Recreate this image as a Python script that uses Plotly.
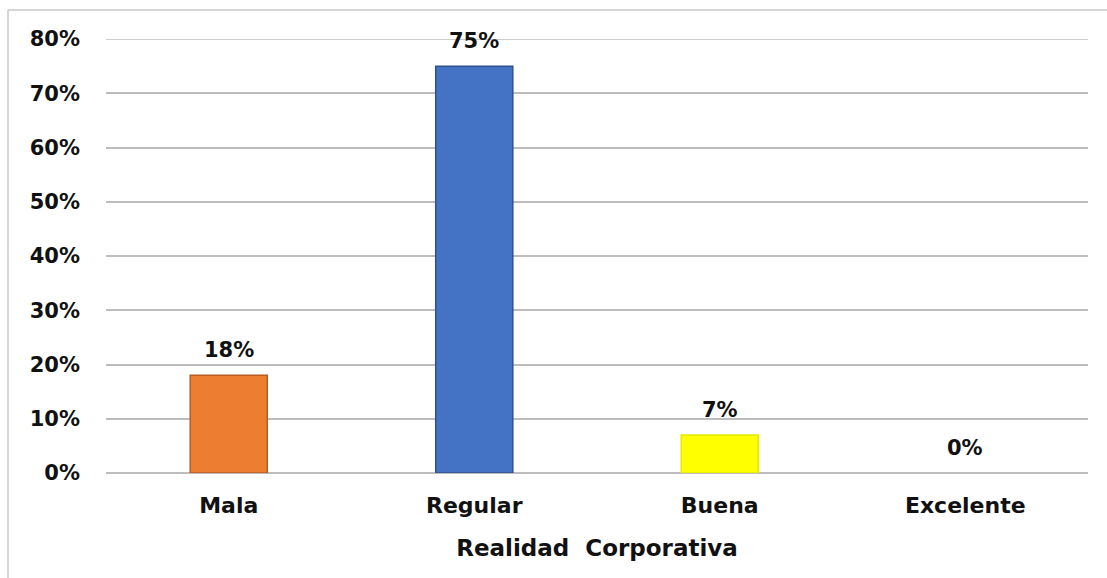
import plotly.graph_objects as go

# Data
categories = ["Mala", "Regular", "Buena", "Excelente"]
values = [0.18, 0.75, 0.07, 0.00]
labels = ["18%", "75%", "7%", "0%"]
fill_colors = ["#ED7D31", "#4472C4", "#FFFF00", "#A5A5A5"]
edge_colors = ["#B85C22", "#2F528F", "#E8E800", "#7F7F7F"]
y_ticks = [0, 0.1, 0.2, 0.3, 0.4, 0.5, 0.6, 0.7, 0.8]
y_tick_text = ["0%", "10%", "20%", "30%", "40%", "50%", "60%", "70%", "80%"]
x_title = "Realidad  Corporativa"

FONT = "DejaVu Sans"
GRID = "#BDBDBD"
W, H = 1107, 578
ML, MR, MT, MB = 106, 19, 39, 105

fig = go.Figure()
fig.add_trace(go.Bar(
    x=categories,
    y=values,
    marker=dict(color=fill_colors,
                line=dict(color=edge_colors,
                          width=[1.5 if v > 0 else 0 for v in values])),
    width=0.314,
    hoverinfo="skip",
))

# Value labels above each bar
for cat, val, lab in zip(categories, values, labels):
    fig.add_annotation(
        x=cat, y=val, text=f"<b>{lab}</b>", showarrow=False,
        yanchor="bottom", yshift=11,
        font=dict(family=FONT, size=21, color="#111111"),
    )

# Top gridline sits on the plot edge, so draw it explicitly
fig.add_shape(type="line", xref="paper", yref="y", layer="below",
              x0=0, x1=1, y0=y_ticks[-1], y1=y_ticks[-1],
              line=dict(color=GRID, width=1.5))

# Frame lines on the left and top edges
pw = W - ML - MR
ph = H - MT - MB
x_left = (8 - ML) / pw
y_top = (ph + MT - 10) / ph
fig.add_shape(type="line", xref="paper", yref="paper",
              x0=x_left, x1=x_left, y0=y_top, y1=-MB / ph - 0.05,
              line=dict(color="#C8C8C8", width=1.5))
fig.add_shape(type="line", xref="paper", yref="paper",
              x0=x_left, x1=(W - ML) / pw + 0.05, y0=y_top, y1=y_top,
              line=dict(color="#C8C8C8", width=1.5))

fig.update_layout(
    width=W, height=H,
    margin=dict(l=ML, r=MR, t=MT, b=MB),
    paper_bgcolor="white",
    plot_bgcolor="white",
    showlegend=False,
    font=dict(family=FONT, color="#111111"),
)
fig.update_xaxes(
    showgrid=False, zeroline=False, showline=False,
    tickfont=dict(family=FONT, size=22, color="#111111"),
    ticklabelstandoff=17,
    title=dict(text=f"<b>{x_title}</b>", font=dict(family=FONT, size=23, color="#111111"), standoff=22),
    tickprefix="<b>", ticksuffix="</b>",
)
fig.update_yaxes(
    range=[0, 0.8],
    tickvals=y_ticks, ticktext=[f"<b>{t}</b>" for t in y_tick_text],
    showgrid=True, gridcolor=GRID, gridwidth=1.5,
    zeroline=True, zerolinecolor=GRID, zerolinewidth=1.5,
    showline=False,
    tickfont=dict(family=FONT, size=21, color="#111111"),
    ticklabelstandoff=25,
)

fig.write_html("out.html")
